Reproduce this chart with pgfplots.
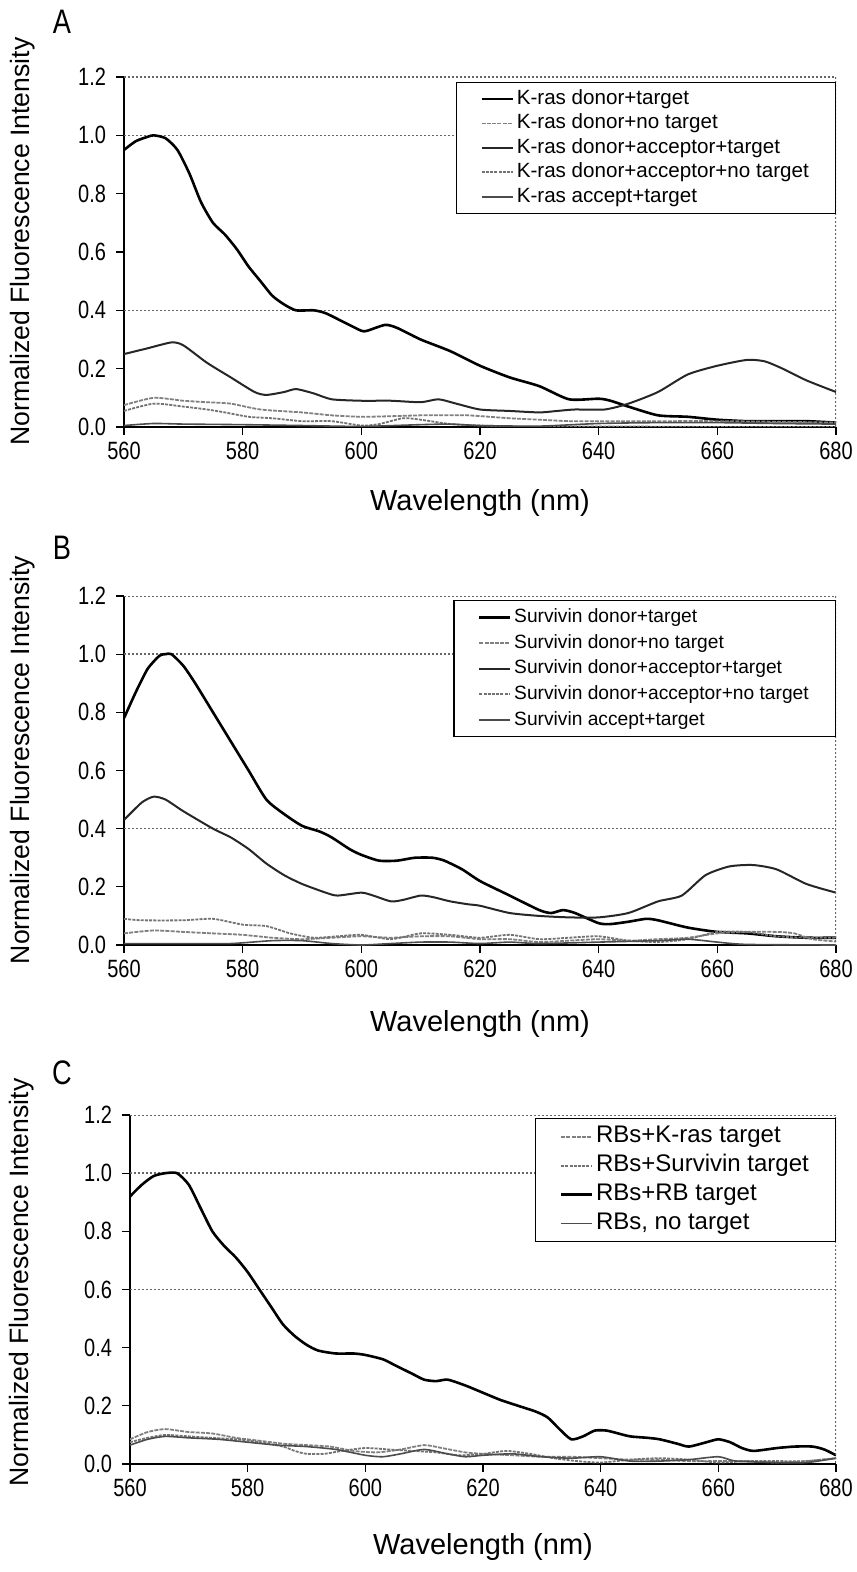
\documentclass[border=0pt]{standalone}
\usepackage{fontspec}
\setmainfont{Liberation Sans}
\newfontfamily\narrowfont[FakeStretch=0.8]{Liberation Sans}
\usepackage{pgfplots}
\pgfplotsset{compat=1.18}

\tikzset{frame/.style={black!60, dash pattern=on 1pt off 1pt, line width=0.7pt}}
\pgfplotsset{
  spec/.style={
    scale only axis,
    width=356pt, height=175pt,
    xmin=560, xmax=680, ymin=0, ymax=1.2,
    xtick={560,580,...,680},
    ytick={0,0.2,...,1.2},
    axis x line*=bottom, axis y line*=left,
    axis line style={black, line width=0.8pt, -},
    tick align=outside,
    major tick length=4pt,
    tick style={black, line width=0.6pt},
    every tick label/.append style={font=\narrowfont\fontsize{12.5}{14}\selectfont},
    /pgf/number format/assume math mode=true,
    yticklabel style={xshift=-1.5pt, /pgf/number format/.cd, fixed, fixed zerofill, precision=1},
    xlabel={Wavelength (nm)},
    ylabel={Normalized Fluorescence Intensity},
    xlabel style={anchor=center, font=\fontsize{14.5}{17}\selectfont},
    ylabel style={anchor=center, font=\fontsize{13.3}{16}\selectfont},
    extra y tick labels={},
    extra y tick style={grid=major, major tick length=0pt},
    grid style={black!60, dash pattern=on 1pt off 1pt, line width=0.7pt},
    legend cell align=left,
    legend image code/.code={\draw[##1] (0pt,0pt) -- (15.5pt,0pt);},
    legend style={at={(1,1)}, anchor=north east, draw=black, line width=0.6pt,
      inner xsep=12pt},
  },
  s1/.style={black, line width=1.3pt, smooth, tension=0.4},
  s2/.style={black!50, line width=0.9pt, dash pattern=on 2pt off 0.6pt, smooth, tension=0.4},
  s3/.style={black!85, line width=1pt, smooth, tension=0.4},
  s4/.style={black!55, line width=0.9pt, dash pattern=on 1.5pt off 0.6pt, smooth, tension=0.4},
  s5/.style={black!70, line width=0.8pt, smooth, tension=0.4},
}

\begin{document}
\begin{tikzpicture}
\path[use as bounding box] (0,0) rectangle (428pt,-786pt);

% ---------- A ----------
\node[font=\narrowfont\fontsize{17}{19}\selectfont] at (31pt,-11pt) {A};
\begin{axis}[spec, at={(62pt,-38.5pt)}, anchor=north west,
  extra y ticks={0.4,1.0},
  xlabel style={at={(axis description cs:0.5,-0.217)}},
  ylabel style={at={(axis description cs:-0.143,0.53)}},
  legend style={yshift=-2.5pt, font=\fontsize{10.3}{12}\selectfont, inner ysep=2.2pt,
    nodes={inner xsep=1.3pt, inner ysep=1.2pt, text height=7.6pt, text depth=2.2pt}},
]
\addplot[s1] coordinates {
(560,0.95) (562,0.98) (564,0.995) (565,1.0) (567,0.99) (569,0.95) (571,0.87) (573,0.77)
(575,0.70) (577,0.66) (579,0.61) (581,0.55) (583,0.50) (585,0.45) (587,0.42) (589,0.40)
(592,0.40) (594,0.39) (597,0.36) (600,0.33) (601,0.33) (604,0.35) (606,0.34) (610,0.30)
(615,0.26) (620,0.21) (625,0.17) (630,0.14) (635,0.095) (640,0.097) (642,0.09) (645,0.07)
(650,0.04) (655,0.035) (660,0.025) (665,0.02) (670,0.02) (675,0.02) (680,0.015)
};
\addplot[s2] coordinates {
(560,0.075) (565,0.10) (570,0.09) (574,0.085) (578,0.08) (583,0.06) (590,0.05) (595,0.04)
(600,0.035) (605,0.037) (610,0.04) (614,0.04) (618,0.04) (625,0.03) (630,0.025) (635,0.02)
(640,0.02) (650,0.02) (660,0.02) (670,0.018) (680,0.015)
};
\addplot[s3] coordinates {
(560,0.25) (564,0.27) (568,0.29) (570,0.28) (574,0.22) (578,0.17) (582,0.12) (584,0.11)
(587,0.12) (589,0.13) (592,0.115) (595,0.095) (600,0.09) (605,0.09) (610,0.085) (613,0.095)
(616,0.08) (620,0.06) (625,0.055) (630,0.05) (633,0.055) (636,0.06) (641,0.06) (645,0.08)
(650,0.12) (655,0.18) (660,0.21) (665,0.23) (668,0.225) (671,0.20) (675,0.16) (680,0.12)
};
\addplot[s4] coordinates {
(560,0.055) (565,0.08) (570,0.07) (574,0.06) (577,0.05) (581,0.035) (585,0.03) (590,0.02)
(595,0.02) (600,0.005) (603,0.01) (607,0.03) (610,0.025) (615,0.01) (620,0.005) (630,0.0)
(640,0.002) (660,0.0) (680,0.0)
};
\addplot[s5] coordinates {
(560,0.005) (565,0.012) (570,0.01) (580,0.008) (590,0.005) (600,0.002) (610,0.008)
(615,0.01) (620,0.005) (630,0.003) (640,0.012) (650,0.015) (660,0.015) (670,0.012) (680,0.01)
};
\legend{K-ras donor+target, K-ras donor+no target, K-ras donor+acceptor+target,
  K-ras donor+acceptor+no target, K-ras accept+target}
\draw[frame] (rel axis cs:0,1) -- (rel axis cs:1,1) -- (rel axis cs:1,0);
\end{axis}

% ---------- B ----------
\node[font=\narrowfont\fontsize{17}{19}\selectfont] at (31pt,-274pt) {B};
\begin{axis}[spec, at={(62pt,-298pt)}, anchor=north west, height=174.5pt,
  extra y ticks={0.4,1.0},
  xlabel style={at={(axis description cs:0.5,-0.226)}},
  ylabel style={at={(axis description cs:-0.143,0.53)}},
  legend style={yshift=-2pt, font=\fontsize{9.6}{11}\selectfont, inner ysep=2pt,
    nodes={inner xsep=1.3pt, inner ysep=1.8pt, text height=7.2pt, text depth=2pt}},
]
\addplot[s1] coordinates {
(560,0.78) (562,0.87) (564,0.95) (566,0.995) (567,1.0) (568,1.0) (570,0.96) (572,0.90)
(575,0.80) (578,0.70) (581,0.60) (584,0.50) (587,0.45) (590,0.41) (593,0.39) (595,0.37)
(598,0.33) (600,0.31) (603,0.29) (606,0.29) (609,0.30) (612,0.30) (614,0.29) (617,0.26)
(620,0.22) (625,0.17) (630,0.12) (632,0.11) (634,0.12) (636,0.11) (640,0.075) (642,0.072)
(645,0.08) (648,0.09) (650,0.085) (655,0.06) (660,0.045) (665,0.04) (670,0.03) (675,0.025) (680,0.025)
};
\addplot[s2] coordinates {
(560,0.04) (565,0.05) (570,0.045) (575,0.04) (580,0.035) (585,0.025) (590,0.02) (595,0.025)
(600,0.03) (605,0.025) (610,0.03) (615,0.03) (620,0.02) (625,0.02) (630,0.01) (635,0.015)
(640,0.02) (645,0.015) (650,0.02) (655,0.025) (660,0.04) (665,0.045) (670,0.045) (673,0.04)
(676,0.02) (680,0.012)
};
\addplot[s3] coordinates {
(560,0.43) (563,0.49) (565,0.51) (567,0.50) (570,0.46) (575,0.40) (578,0.37) (581,0.33)
(584,0.28) (587,0.24) (590,0.21) (594,0.18) (596,0.17) (600,0.18) (602,0.17) (605,0.15)
(607,0.155) (610,0.17) (612,0.165) (615,0.15) (618,0.14) (620,0.135) (625,0.11) (630,0.10)
(635,0.095) (640,0.095) (645,0.11) (650,0.15) (654,0.17) (658,0.24) (662,0.27) (666,0.275)
(670,0.26) (675,0.21) (680,0.18)
};
\addplot[s4] coordinates {
(560,0.09) (563,0.085) (570,0.085) (575,0.09) (580,0.07) (584,0.065) (588,0.04) (592,0.025)
(596,0.03) (600,0.035) (605,0.02) (610,0.04) (615,0.035) (620,0.025) (625,0.035) (630,0.02)
(635,0.025) (640,0.03) (645,0.015) (650,0.01) (655,0.02) (660,0.045) (665,0.045) (670,0.03)
(675,0.025) (680,0.025)
};
\addplot[s5] coordinates {
(560,0.005) (570,0.005) (578,0.005) (585,0.015) (590,0.015) (595,0.005) (600,0.0) (605,0.005)
(610,0.01) (615,0.01) (620,0.005) (625,0.01) (630,0.005) (640,0.01) (650,0.015) (655,0.02)
(660,0.01) (665,0.002) (680,0.0)
};
\legend{Survivin donor+target, Survivin donor+no target, Survivin donor+acceptor+target,
  Survivin donor+acceptor+no target\hspace{6pt}, Survivin accept+target}
\draw[frame] (rel axis cs:0,1) -- (rel axis cs:1,1) -- (rel axis cs:1,0);
\end{axis}

% ---------- C ----------
\node[font=\narrowfont\fontsize{17}{19}\selectfont] at (31pt,-536.5pt) {C};
\begin{axis}[spec, at={(65pt,-557.5pt)}, anchor=north west, width=353pt, height=174.5pt,
  extra y ticks={0.6,1.0},
  xlabel style={at={(axis description cs:0.5,-0.238)}},
  ylabel style={at={(axis description cs:-0.153,0.52)}},
  legend style={yshift=-1.5pt, font=\fontsize{12}{14}\selectfont, inner ysep=1.75pt,
    nodes={inner xsep=1.3pt, inner ysep=1.55pt, text height=8.8pt, text depth=2.6pt}},
]
\addplot[s2] coordinates {
(560,0.085) (563,0.11) (566,0.12) (570,0.11) (574,0.105) (578,0.09) (582,0.08) (586,0.07)
(590,0.065) (594,0.06) (598,0.045) (602,0.04) (606,0.05) (610,0.065) (613,0.055) (617,0.04)
(620,0.035) (625,0.03) (630,0.025) (635,0.025) (640,0.02) (645,0.015) (650,0.015) (655,0.01)
(660,0.01) (665,0.01) (670,0.005) (675,0.01) (680,0.02)
};
\addplot[s4] coordinates {
(560,0.075) (563,0.09) (566,0.10) (570,0.095) (574,0.09) (578,0.085) (582,0.075) (586,0.06)
(588,0.045) (590,0.035) (593,0.035) (596,0.045) (600,0.055) (604,0.05) (608,0.045) (612,0.04)
(616,0.03) (620,0.035) (624,0.045) (628,0.035) (632,0.02) (636,0.01) (640,0.005) (645,0.015)
(650,0.02) (655,0.015) (660,0.005) (665,0.01) (670,0.01) (675,0.01) (680,0.02)
};
\addplot[s1] coordinates {
(560,0.92) (562,0.96) (564,0.99) (566,1.0) (568,1.0) (570,0.96) (572,0.88) (574,0.80)
(576,0.75) (578,0.71) (580,0.66) (582,0.60) (584,0.54) (586,0.48) (588,0.44) (590,0.41)
(592,0.39) (595,0.38) (598,0.38) (600,0.375) (603,0.36) (605,0.34) (608,0.31) (610,0.29)
(612,0.285) (614,0.29) (617,0.27) (620,0.245) (623,0.22) (626,0.20) (629,0.18) (631,0.16)
(633,0.12) (635,0.085) (637,0.095) (639,0.115) (641,0.115) (643,0.105) (645,0.095) (648,0.09)
(650,0.085) (653,0.07) (655,0.06) (658,0.075) (660,0.085) (662,0.075) (664,0.055) (666,0.045)
(670,0.055) (673,0.06) (676,0.06) (678,0.05) (680,0.03)
};
\addplot[s5] coordinates {
(560,0.065) (563,0.085) (566,0.095) (570,0.09) (575,0.085) (580,0.075) (585,0.065) (590,0.06)
(595,0.05) (600,0.03) (603,0.025) (606,0.035) (610,0.05) (614,0.035) (617,0.025) (620,0.03)
(625,0.035) (630,0.025) (635,0.02) (640,0.025) (645,0.01) (650,0.01) (655,0.015) (660,0.025)
(663,0.01) (670,0.005) (675,0.005) (680,0.02)
};
\legend{RBs+K-ras target, RBs+Survivin target\hspace{-8pt}, RBs+RB target, {RBs, no target}}
\draw[frame] (rel axis cs:0,1) -- (rel axis cs:1,1) -- (rel axis cs:1,0);
\end{axis}
\end{tikzpicture}
\end{document}
